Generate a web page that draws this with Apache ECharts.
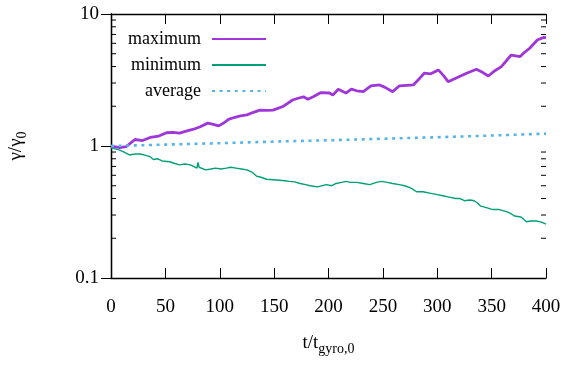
<!DOCTYPE html>
<html>
<head>
<meta charset="utf-8">
<script src="https://cdn.jsdelivr.net/npm/echarts@6/dist/echarts.min.js"></script>
<style>html,body{margin:0;padding:0;background:#fff;}#c{width:572px;height:373px;}</style>
</head>
<body>
<div id="c"></div>
<script>
// ---- data ----
const seriesNames = ['maximum', 'minimum', 'average'];
const xTicks = [0, 50, 100, 150, 200, 250, 300, 350, 400];
const yTicks = [0.1, 1, 10];

const tMax = [0, 8, 14, 22, 29, 36, 44, 51, 57, 63, 70, 76, 82, 89, 94, 99, 104, 108, 114, 119, 125, 131, 137, 143, 149, 158, 167, 172, 177, 181, 186, 193, 201, 204, 209, 216, 221, 226, 232, 239, 247, 252, 259, 265, 272, 278, 283, 288, 294, 301, 306, 310, 317, 322, 327, 336, 342, 347, 353, 359, 368, 376, 380, 385, 392, 398, 400];
const vMax = [1.0, 0.97, 0.99, 1.12, 1.10, 1.16, 1.19, 1.26, 1.27, 1.25, 1.30, 1.34, 1.40, 1.49, 1.46, 1.42, 1.50, 1.59, 1.65, 1.69, 1.72, 1.80, 1.87, 1.86, 1.87, 1.99, 2.23, 2.30, 2.36, 2.26, 2.36, 2.54, 2.52, 2.43, 2.69, 2.52, 2.70, 2.62, 2.58, 2.85, 2.90, 2.78, 2.58, 2.85, 2.88, 2.90, 3.20, 3.56, 3.52, 3.77, 3.40, 3.07, 3.26, 3.40, 3.56, 3.81, 3.60, 3.39, 3.72, 3.99, 4.89, 4.75, 5.10, 5.50, 6.36, 6.65, 6.60];

const tMin = [0, 4, 8, 12, 17, 22, 27, 32, 36, 39, 43, 47, 54, 58, 63, 68, 73, 79, 80, 81, 87, 92, 96, 101, 106, 110, 115, 120, 125, 130, 134, 138, 143, 149, 155, 160, 164, 169, 174, 179, 183, 190, 198, 203, 207, 212, 216, 220, 226, 232, 238, 244, 249, 254, 259, 265, 270, 276, 281, 287, 293, 299, 305, 311, 317, 321, 325, 330, 334, 337, 340, 346, 351, 357, 363, 367, 371, 377, 382, 386, 391, 396, 400];
const vMin = [0.97, 0.95, 0.93, 0.90, 0.855, 0.87, 0.87, 0.85, 0.83, 0.79, 0.80, 0.77, 0.76, 0.74, 0.72, 0.73, 0.72, 0.68, 0.75, 0.69, 0.66, 0.67, 0.68, 0.67, 0.68, 0.69, 0.68, 0.67, 0.66, 0.63, 0.59, 0.58, 0.56, 0.555, 0.55, 0.545, 0.54, 0.535, 0.52, 0.51, 0.50, 0.49, 0.51, 0.50, 0.52, 0.53, 0.54, 0.53, 0.53, 0.52, 0.51, 0.53, 0.54, 0.53, 0.52, 0.51, 0.50, 0.48, 0.45, 0.45, 0.44, 0.43, 0.42, 0.41, 0.40, 0.40, 0.385, 0.39, 0.385, 0.37, 0.35, 0.34, 0.33, 0.33, 0.32, 0.31, 0.295, 0.29, 0.267, 0.27, 0.27, 0.265, 0.256];

const tAvg = [0, 50, 100, 150, 200, 250, 300, 350, 400];
const vAvg = [1.0, 1.025, 1.05, 1.08, 1.105, 1.135, 1.165, 1.20, 1.24];

const minorTickValues = [0.2, 0.3, 0.4, 0.5, 0.6, 0.7, 0.8, 0.9, 2, 3, 4, 5, 6, 7, 8, 9];
// --------------------------------------

const FONT = 'Liberation Serif';
const pair = (xs, ys) => xs.map((x, i) => [x, ys[i]]);
const fmtY = v => String(+Number(v).toPrecision(3));

const chart = echarts.init(document.getElementById('c'), null, {renderer: 'canvas'});

const baseX = {
  type: 'value', min: 0, max: 400, interval: 50,
  axisLine: {show: true, lineStyle: {color: '#000', width: 1.3}},
  axisTick: {show: true, inside: true, length: 10, lineStyle: {color: '#000', width: 1}},
  splitLine: {show: false}
};
const baseY = {
  type: 'log', logBase: 10, min: 0.1, max: 10, splitNumber: 2,
  axisLine: {show: true, lineStyle: {color: '#000', width: 1.3}},
  axisTick: {show: true, inside: true, length: 10, lineStyle: {color: '#000', width: 1}},
  splitLine: {show: false}
};
const subRich = {
  m: {fontFamily: FONT, fontSize: 19, color: '#000', verticalAlign: 'top', lineHeight: 22},
  s: {fontFamily: FONT, fontSize: 14, color: '#000', verticalAlign: 'bottom', lineHeight: 22}
};

chart.setOption({
  animation: false,
  backgroundColor: '#fff',
  grid: {left: 111, right: 26, top: 14, bottom: 95, containLabel: false, outerBoundsMode: 'none'},
  legend: {
    data: seriesNames,
    orient: 'vertical',
    left: 123, top: 25,
    align: 'right',
    itemWidth: 54, itemHeight: 18, itemGap: 8,
    itemStyle: {opacity: 0},
    textStyle: {fontFamily: FONT, fontSize: 18, color: '#000', width: 80, align: 'right', padding: [0, 6, 0, 0]},
    selectedMode: false
  },
  xAxis: [
    Object.assign({}, baseX, {
      position: 'bottom',
      axisLabel: {show: true, margin: 20, fontFamily: FONT, fontSize: 19, color: '#000'},
      name: '{m|t/t}{s|gyro,0}',
      nameLocation: 'middle', nameGap: 56,
      nameTextStyle: {rich: subRich}
    }),
    Object.assign({}, baseX, {position: 'top', axisLabel: {show: false}})
  ],
  yAxis: [
    Object.assign({}, baseY, {
      position: 'left',
      axisLabel: {show: true, margin: 12, fontFamily: FONT, fontSize: 19, color: '#000', formatter: fmtY},
      name: '{m|γ/γ}{s|0}',
      nameLocation: 'middle', nameGap: 82, nameRotate: 90,
      nameTextStyle: {rich: subRich}
    }),
    Object.assign({}, baseY, {position: 'right', axisLabel: {show: false}})
  ],
  series: [
    {
      name: 'maximum', type: 'line', symbol: 'none', xAxisIndex: 0, yAxisIndex: 0,
      data: pair(tMax, vMax),
      lineStyle: {color: '#9f36d9', width: 2.8},
      itemStyle: {color: '#9f36d9'}, z: 4
    },
    {
      name: 'minimum', type: 'line', symbol: 'none', xAxisIndex: 0, yAxisIndex: 0,
      data: pair(tMin, vMin),
      lineStyle: {color: '#00a078', width: 1.4},
      itemStyle: {color: '#00a078'}, z: 3
    },
    {
      name: 'average', type: 'line', symbol: 'none', xAxisIndex: 0, yAxisIndex: 0,
      data: pair(tAvg, vAvg),
      lineStyle: {color: '#56b4e9', width: 2.6, type: [3, 4.6]},
      itemStyle: {color: '#56b4e9'}, z: 5
    },
    {
      name: 'minorTicks', type: 'custom', xAxisIndex: 0, yAxisIndex: 0,
      data: minorTickValues.map(v => [0, v]),
      encode: {x: 0, y: 1},
      silent: true, z: 1,
      renderItem: function (params, api) {
        const p = api.coord([0, api.value(1)]);
        const cs = params.coordSys;
        const L = 5;
        return {
          type: 'group',
          children: [
            {type: 'line', shape: {x1: cs.x, y1: p[1], x2: cs.x + L, y2: p[1]}, style: {stroke: '#000', lineWidth: 1}},
            {type: 'line', shape: {x1: cs.x + cs.width - L, y1: p[1], x2: cs.x + cs.width, y2: p[1]}, style: {stroke: '#000', lineWidth: 1}}
          ]
        };
      }
    }
  ]
});
</script>
</body>
</html>
